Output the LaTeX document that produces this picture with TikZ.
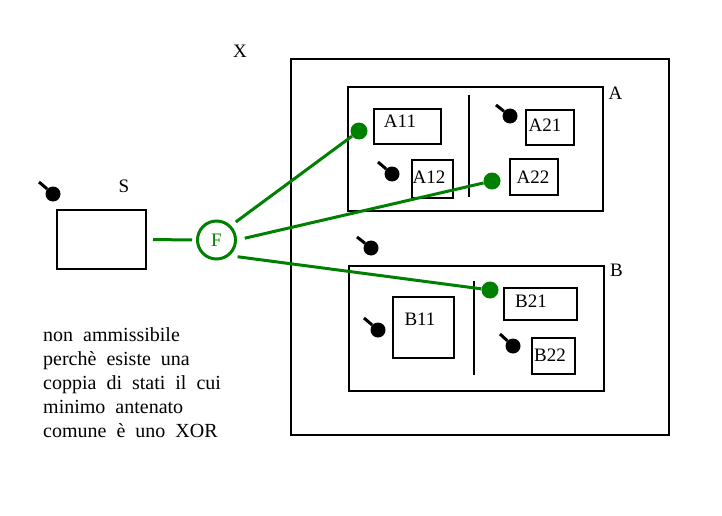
\documentclass[tikz,border=0pt]{standalone}
\usepackage{fontspec}
\setmainfont{Liberation Serif}
\newfontfamily\notefont[WordSpace=2]{Liberation Serif}
\definecolor{verde}{RGB}{0,128,0}
\begin{document}
\begin{tikzpicture}[x=1pt, y=-1pt]
  \useasboundingbox (0, 0) rectangle (722, 516);  % Bildgroesse
  \tikzstyle{box}=[rectangle, draw, line width=2pt, inner sep=0pt, fill=white]
  \tikzstyle{txt}=[inner sep=0pt, font=\fontsize{19}{22}\selectfont]
  \tikzstyle{dot}=[circle, fill=black, minimum width=15pt, inner sep=0pt]
  \tikzstyle{gdot}=[circle, fill=verde, minimum width=17pt, inner sep=0pt]
  \tikzstyle{tail}=[draw, line width=3pt]
  \tikzstyle{gline}=[draw=verde, line width=3pt]

  \node[box, minimum width=378pt, minimum height=376pt] (X) at (480,   247)   {};
  \node[box, minimum width=255pt, minimum height=124pt] (A) at (475.5, 149)   {};
  \node[box, minimum width=255pt, minimum height=125pt] (B) at (476.5, 328.5) {};

  \node[box, minimum width=67pt, minimum height=35pt] (A11) at (407.5, 126.5) {};
  \node[box, minimum width=41pt, minimum height=38pt] (A12) at (432.5, 179)   {};
  \node[box, minimum width=48pt, minimum height=35pt] (A21) at (550,   127.5) {};
  \node[box, minimum width=48pt, minimum height=36pt] (A22) at (534,   177)   {};
  \node[box, minimum width=61pt, minimum height=61pt] (B11) at (423.5, 327.5) {};
  \node[box, minimum width=73pt, minimum height=32pt] (B21) at (540.5, 304)   {};
  \node[box, minimum width=43pt, minimum height=36pt] (B22) at (553.5, 356)   {};
  \node[box, minimum width=89pt, minimum height=59pt] (S)   at (101.5, 239.5) {};

  \node[txt] (lX)   at (240,   51)  {X};
  \node[txt] (lA)   at (615.5, 93)  {A};
  \node[txt] (lB)   at (616.5, 270) {B};
  \node[txt] (lS)   at (124,   186) {S};
  \node[txt] (lA11) at (400,   121) {A11};
  \node[txt] (lA12) at (429,   177) {A12};
  \node[txt] (lA21) at (545,   125) {A21};
  \node[txt] (lA22) at (533,   177) {A22};
  \node[txt] (lB11) at (420,   319) {B11};
  \node[txt] (lB21) at (531,   301) {B21};
  \node[txt] (lB22) at (550,   355) {B22};

  \node[txt, anchor=north west, align=left, font=\notefont\fontsize{20}{24}\selectfont] (note) at (43, 327.5)
    {non ammissibile\\perchè esiste una\\coppia di stati il cui\\minimo antenato\\comune è uno XOR};

  % Trennlinien
  \coordinate (a1) at (469, 95);
  \coordinate (a2) at (469, 197);
  \coordinate (b1) at (474, 281);
  \coordinate (b2) at (474, 375);
  \path (a1) edge[tail, line width=2pt] (a2);
  \path (b1) edge[tail, line width=2pt] (b2);

  % Startzustaende
  \node[dot] (dS)   at (53,  194) {};
  \node[dot] (dA1)  at (392, 174) {};
  \node[dot] (dA2)  at (510, 116) {};
  \node[dot] (dX)   at (371, 248) {};
  \node[dot] (dB1)  at (378, 330) {};
  \node[dot] (dB2)  at (513, 346) {};
  \coordinate (tS)  at (39,  182);
  \coordinate (tA1) at (378, 162);
  \coordinate (tA2) at (496, 105);
  \coordinate (tX)  at (357, 237);
  \coordinate (tB1) at (364, 318);
  \coordinate (tB2) at (500, 334);
  \path (tS)  edge[tail] (dS);
  \path (tA1) edge[tail] (dA1);
  \path (tA2) edge[tail] (dA2);
  \path (tX)  edge[tail] (dX);
  \path (tB1) edge[tail] (dB1);
  \path (tB2) edge[tail] (dB2);

  % Fork
  \node[circle, draw=verde, line width=3pt, minimum width=38pt, inner sep=0pt, text=verde, font=\fontsize{19}{22}\selectfont] (F) at (216.5, 240) {F};
  \node[gdot] (g1) at (359, 131) {};
  \node[gdot] (g2) at (492, 181) {};
  \node[gdot] (g3) at (490, 290) {};

  \path (S.east)  edge[gline, shorten >=4pt, shorten <=6pt] (F.west);
  \path (F.45)    edge[gline, shorten <=6pt] (g1);
  \path (F.east)  edge[gline, shorten <=8pt] (g2);
  \path (F.-50)   edge[gline, shorten <=8pt] (g3);
\end{tikzpicture}
\end{document}
